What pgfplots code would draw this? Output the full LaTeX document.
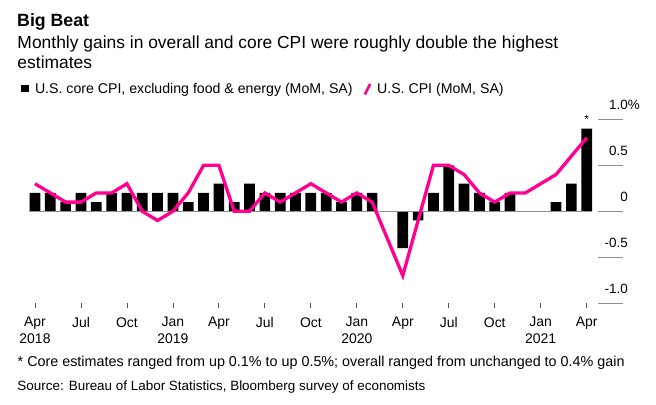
\documentclass[border=0pt]{standalone}
\usepackage{fontspec}
\setmainfont{Liberation Sans}
\usepackage{pgfplots}
\usepackage{pgfplotstable}
\pgfplotsset{compat=1.18}
\definecolor{cpipink}{HTML}{FF0090}
\definecolor{gridgray}{HTML}{8F8F8F}
\definecolor{tickgray}{HTML}{555555}

\pgfplotstableread{
idx core
0 0.2
1 0.2
2 0.1
3 0.2
4 0.1
5 0.2
6 0.2
7 0.2
8 0.2
9 0.2
10 0.1
11 0.2
12 0.3
13 0.1
14 0.3
15 0.2
16 0.2
17 0.2
18 0.2
19 0.2
20 0.1
21 0.2
22 0.2
23 0.0
24 -0.4
25 -0.1
26 0.2
27 0.5
28 0.3
29 0.2
30 0.1
31 0.2
32 0.0
33 0.0
34 0.1
35 0.3
36 0.9
}\coretable

\pgfplotstableread{
idx cpi
0 0.3
1 0.2
2 0.1
3 0.1
4 0.2
5 0.2
6 0.3
7 0.0
8 -0.1
9 0.0
10 0.2
11 0.5
12 0.5
13 0.0
14 0.0
15 0.2
16 0.1
17 0.2
18 0.3
19 0.2
20 0.1
21 0.2
22 0.1
23 -0.3
24 -0.7
25 -0.1
26 0.5
27 0.5
28 0.4
29 0.2
30 0.1
31 0.2
32 0.2
33 0.3
34 0.4
35 0.6
36 0.8
}\cpitable

\begin{document}
\begin{tikzpicture}
\path[use as bounding box] (0,0) rectangle (656bp,405bp);
\node[anchor=base west, inner sep=0pt, font=\bfseries\fontsize{17.8}{20}\selectfont] at (17bp,378.3bp) {Big Beat};
\node[anchor=base west, inner sep=0pt, font=\fontsize{17.5}{20}\selectfont] at (17.3bp,356.7bp) {Monthly gains in overall and core CPI were roughly double the highest};
\node[anchor=base west, inner sep=0pt, font=\fontsize{17.5}{20}\selectfont] at (17.3bp,336.7bp) {estimates};
\node[anchor=base west, inner sep=0pt, font=\fontsize{14.4}{16}\selectfont] at (17.5bp,38.3bp) {* Core estimates ranged from up 0.1\% to up 0.5\%; overall ranged from unchanged to 0.4\% gain};
\node[anchor=base west, inner sep=0pt, font=\fontsize{13.5}{16}\selectfont] at (17.3bp,14.3bp) {Source: Bureau of Labor Statistics, Bloomberg survey of economists};
\begin{axis}[
  at={(28.87bp,101.8bp)}, anchor=south west,
  scale only axis, width=594.6bp, height=183.8bp,
  xmin=-0.4, xmax=38.4, ymin=-1, ymax=1,
  enlargelimits=false,
  axis line style={draw=none},
  clip=false,
  xtick={0,3,...,36},
  xticklabels={Apr\\2018,Jul,Oct,Jan\\2019,Apr,Jul,Oct,Jan\\2020,Apr,Jul,Oct,Jan\\2021,Apr},
  xtick pos=left, tick align=outside,
  x tick style={draw=tickgray, line width=0.8bp},
  major tick length=4.5bp,
  xticklabel style={align=center, font=\fontsize{14}{16.7}\selectfont, inner sep=0pt, anchor=north, yshift=-9.5bp},
  ytick={-1,-0.5,0,0.5,1},
  yticklabels={-1.0,-0.5,0,0.5,1.0\rlap{\%}},
  yticklabel pos=right,
  y tick style={draw=none},
  yticklabel style={anchor=base east, inner sep=0pt, font=\fontsize{13.5}{16}\selectfont, yshift=9.5bp},
  legend columns=-1,
  legend style={draw=none, fill=none, inner sep=0pt, outer sep=0pt,
    at={(axis description cs:-0.01374,1.1643)}, anchor=west,
    font=\fontsize{14.2}{16}\selectfont, text=black,
    nodes={inner sep=0pt},
    /tikz/every odd column/.append style={column sep=5.7bp},
    /tikz/every even column/.append style={column sep=11bp}},
]
\addplot[ybar, bar width=10.7bp, fill=black, draw=none,
  legend image code/.code={\fill[black] (0bp,-2.6bp) rectangle (8.6bp,4.8bp);}]
  table[x=idx, y=core] {\coretable};
\addlegendentry{U.S. core CPI, excluding food \& energy (MoM, SA)}
\draw[gridgray, line width=1.3bp] (axis cs:-0.37,0) -- (axis cs:36.37,0);
\pgfplotsinvokeforeach{-1,-0.5,0,0.5,1}{
  \draw[gridgray, line width=1.3bp] (axis cs:36.74,#1) -- (axis cs:38.4,#1);
}
\addplot[cpipink, line width=3.3bp, no markers,
  legend image code/.code={\draw[cpipink, line width=2.6bp] (0.8bp,-5bp) -- (6bp,5.5bp);}]
  table[x=idx, y=cpi] {\cpitable};
\addlegendentry{U.S. CPI (MoM, SA)}
\node[font=\fontsize{12}{12}\selectfont, anchor=base, inner sep=0pt, yshift=5bp] at (axis cs:36,0.9) {*};
\end{axis}
\end{tikzpicture}
\end{document}
